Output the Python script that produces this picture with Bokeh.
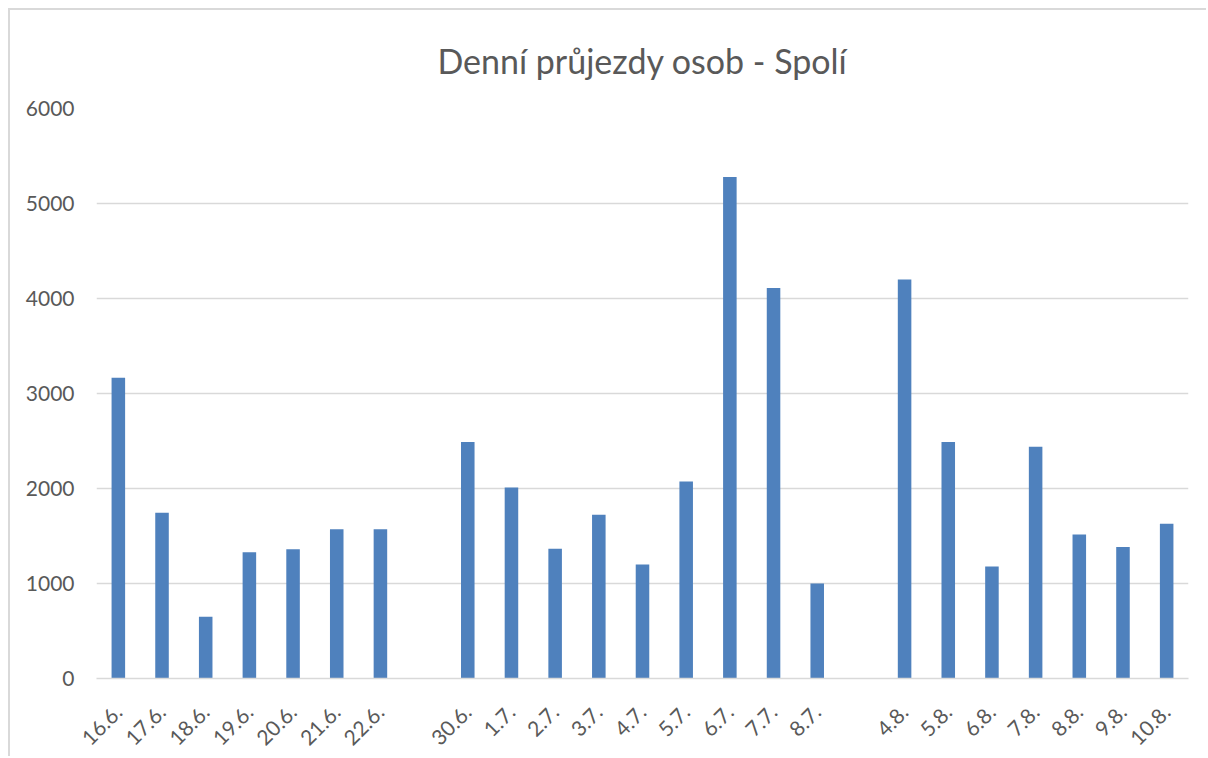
import math
from bokeh.plotting import figure
from bokeh.models import FixedTicker, Range1d
from bokeh.embed import file_html
from bokeh.resources import INLINE

title = "Denní průjezdy osob - Spolí"
labels = ["16.6.", "17.6.", "18.6.", "19.6.", "20.6.", "21.6.", "22.6.", "",
          "30.6.", "1.7.", "2.7.", "3.7.", "4.7.", "5.7.", "6.7.", "7.7.", "8.7.", "",
          "4.8.", "5.8.", "6.8.", "7.8.", "8.8.", "9.8.", "10.8."]
values = [3165, 1745, 650, 1330, 1360, 1570, 1570, None,
          2490, 2010, 1365, 1725, 1200, 2075, 5280, 4110, 1000, None,
          4200, 2490, 1180, 2440, 1515, 1385, 1630]

xs = [i for i, v in enumerate(values) if v is not None]
ys = [v for v in values if v is not None]
tick_labels = {i: labels[i] for i in xs}

FONT = "Lato"
GREY_TXT = "#595959"

p = figure(width=1198, height=748, output_backend="svg", toolbar_location=None,
           x_range=Range1d(-0.5, len(labels) - 0.5), y_range=Range1d(0, 6000),
           min_border_left=86, min_border_right=20, min_border_top=98, min_border_bottom=80,
           title=title,
           styles={"border-left": "2px solid #d9d9d9", "border-top": "2px solid #d9d9d9",
                   "margin-left": "8px", "margin-top": "8px"})
p.outline_line_color = None
p.title.align = "center"
p.title.text_font = FONT
p.title.text_font_size = "34px"
p.title.text_font_style = "normal"
p.title.text_color = GREY_TXT
p.title.standoff = 55

p.vbar(x=xs, top=ys, width=0.31, fill_color="#4f81bd", line_color=None)

p.xgrid.grid_line_color = None
p.ygrid.grid_line_color = "#d9d9d9"
p.ygrid.grid_line_width = 1.5
p.yaxis.ticker = FixedTicker(ticks=[0, 1000, 2000, 3000, 4000, 5000, 6000])
p.yaxis.axis_line_color = None
p.yaxis.major_tick_line_color = None
p.yaxis.minor_tick_line_color = None
p.yaxis.major_label_text_font = FONT
p.yaxis.major_label_text_font_size = "21px"
p.yaxis.major_label_text_color = GREY_TXT
p.yaxis.major_label_standoff = 16

p.xaxis.ticker = FixedTicker(ticks=xs)
p.xaxis.major_label_overrides = tick_labels
p.xaxis.axis_line_color = "#d9d9d9"
p.xaxis.axis_line_width = 1.5
p.xaxis.major_tick_line_color = None
p.xaxis.minor_tick_line_color = None
p.xaxis.major_label_orientation = math.pi / 4
p.xaxis.major_label_text_font = FONT
p.xaxis.major_label_text_font_size = "21px"
p.xaxis.major_label_text_color = GREY_TXT
p.xaxis.major_label_standoff = 24

open("out.html", "w").write(file_html(p, INLINE))
